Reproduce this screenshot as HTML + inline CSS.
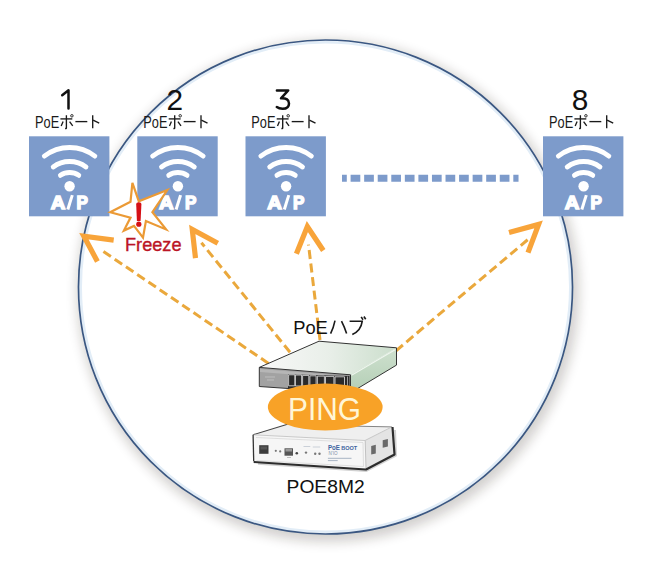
<!DOCTYPE html>
<html><head><meta charset="utf-8">
<style>
html,body{margin:0;padding:0;background:#fff;width:650px;height:571px;overflow:hidden}
svg{display:block;position:absolute;left:0;top:0}
.lbl{font-family:"Liberation Sans",sans-serif;fill:#111}
</style></head>
<body>
<svg width="650" height="571" viewBox="0 0 650 571">
<defs>
  <filter id="sh" x="-20%" y="-20%" width="140%" height="140%">
    <feGaussianBlur stdDeviation="6"/>
  </filter>
  <linearGradient id="hubTop" x1="0" y1="0" x2="1" y2="0">
    <stop offset="0" stop-color="#f8f8f8"/>
    <stop offset="0.5" stop-color="#e9efe9"/>
    <stop offset="1" stop-color="#cbdecc"/>
  </linearGradient>
  <linearGradient id="hubSide" x1="0" y1="0" x2="0" y2="1">
    <stop offset="0" stop-color="#cfe1cf"/>
    <stop offset="1" stop-color="#b3ceb5"/>
  </linearGradient>
  
  
</defs>

<!-- big circle with shadow -->
<circle cx="328" cy="291" r="251" fill="#201810" opacity="0.2" filter="url(#sh)"/>
<circle cx="325.5" cy="287" r="247" fill="#fff"/>
<circle cx="325.5" cy="287" r="244.8" fill="none" stroke="#e2edf7" stroke-width="2.6"/>
<circle cx="325.5" cy="287" r="247" fill="none" stroke="#3a5782" stroke-width="1.7"/>

<!-- AP boxes -->
<g transform="translate(29 136.3)">
    <rect x="0" y="0" width="80.4" height="80" fill="#7d9bcb"/>
    <g fill="none" stroke="#fff" stroke-width="4.8" stroke-linecap="round">
      <path d="M15.3 19.85 A41.3 41.3 0 0 1 65.9 19.85"/>
      <path d="M24.2 30.67 A27.3 27.3 0 0 1 57 30.67"/>
      <path d="M31.4 39.05 A16.3 16.3 0 0 1 49.8 39.05"/>
    </g>
    <circle cx="40.6" cy="49.9" r="5.2" fill="#fff"/>
    <g font-family="Liberation Sans" font-weight="bold" font-size="17.5" fill="#fff" stroke="#fff" stroke-width="1.4">
      <text x="21.7" y="72.6" textLength="14.6" lengthAdjust="spacingAndGlyphs">A</text>
      <path d="M38.8 73.2 L43.3 58.8" stroke="#fff" stroke-width="3" fill="none"/>
      <text x="47.6" y="72.6" textLength="11.4" lengthAdjust="spacingAndGlyphs">P</text>
    </g>
  </g>
<g transform="translate(137.3 136.3)">
    <rect x="0" y="0" width="80.4" height="80" fill="#7d9bcb"/>
    <g fill="none" stroke="#fff" stroke-width="4.8" stroke-linecap="round">
      <path d="M15.3 19.85 A41.3 41.3 0 0 1 65.9 19.85"/>
      <path d="M24.2 30.67 A27.3 27.3 0 0 1 57 30.67"/>
      <path d="M31.4 39.05 A16.3 16.3 0 0 1 49.8 39.05"/>
    </g>
    <circle cx="40.6" cy="49.9" r="5.2" fill="#fff"/>
    <g font-family="Liberation Sans" font-weight="bold" font-size="17.5" fill="#fff" stroke="#fff" stroke-width="1.4">
      <text x="21.7" y="72.6" textLength="14.6" lengthAdjust="spacingAndGlyphs">A</text>
      <path d="M38.8 73.2 L43.3 58.8" stroke="#fff" stroke-width="3" fill="none"/>
      <text x="47.6" y="72.6" textLength="11.4" lengthAdjust="spacingAndGlyphs">P</text>
    </g>
  </g>
<g transform="translate(245.5 136.3)">
    <rect x="0" y="0" width="80.4" height="80" fill="#7d9bcb"/>
    <g fill="none" stroke="#fff" stroke-width="4.8" stroke-linecap="round">
      <path d="M15.3 19.85 A41.3 41.3 0 0 1 65.9 19.85"/>
      <path d="M24.2 30.67 A27.3 27.3 0 0 1 57 30.67"/>
      <path d="M31.4 39.05 A16.3 16.3 0 0 1 49.8 39.05"/>
    </g>
    <circle cx="40.6" cy="49.9" r="5.2" fill="#fff"/>
    <g font-family="Liberation Sans" font-weight="bold" font-size="17.5" fill="#fff" stroke="#fff" stroke-width="1.4">
      <text x="21.7" y="72.6" textLength="14.6" lengthAdjust="spacingAndGlyphs">A</text>
      <path d="M38.8 73.2 L43.3 58.8" stroke="#fff" stroke-width="3" fill="none"/>
      <text x="47.6" y="72.6" textLength="11.4" lengthAdjust="spacingAndGlyphs">P</text>
    </g>
  </g>
<g transform="translate(543 136.3)">
    <rect x="0" y="0" width="80.4" height="80" fill="#7d9bcb"/>
    <g fill="none" stroke="#fff" stroke-width="4.8" stroke-linecap="round">
      <path d="M15.3 19.85 A41.3 41.3 0 0 1 65.9 19.85"/>
      <path d="M24.2 30.67 A27.3 27.3 0 0 1 57 30.67"/>
      <path d="M31.4 39.05 A16.3 16.3 0 0 1 49.8 39.05"/>
    </g>
    <circle cx="40.6" cy="49.9" r="5.2" fill="#fff"/>
    <g font-family="Liberation Sans" font-weight="bold" font-size="17.5" fill="#fff" stroke="#fff" stroke-width="1.4">
      <text x="21.7" y="72.6" textLength="14.6" lengthAdjust="spacingAndGlyphs">A</text>
      <path d="M38.8 73.2 L43.3 58.8" stroke="#fff" stroke-width="3" fill="none"/>
      <text x="47.6" y="72.6" textLength="11.4" lengthAdjust="spacingAndGlyphs">P</text>
    </g>
  </g>

<!-- numbers -->
<g fill="none" stroke="#111" stroke-width="2.5" stroke-linecap="round" stroke-linejoin="round">
  <path d="M62.2 95.2 L68.5 90.2 V108.6"/>
  <path d="M276.9 90.4 H288.2 L281 98.3 Q289 98 289 103.4 Q289 108.7 282.6 108.7 Q279 108.7 276.8 107"/>
</g>
<g class="lbl" font-size="29.8" text-anchor="middle">
  <text x="174.8" y="109.8">2</text>
  <text x="580" y="109.8">8</text>
</g>
<!-- PoEポート labels -->
<g transform="translate(35 127.6)">
    <text x="0" y="0" font-family="Liberation Sans" font-size="16.3" fill="#1a1a1a" textLength="24.2" lengthAdjust="spacingAndGlyphs">PoE</text>
    <g fill="none" stroke="#1a1a1a" stroke-width="1.35" stroke-linecap="butt">
      <path d="M25.4 -8.7 H37.3"/>
      <path d="M31.4 -12.3 V0.6 Q31.4 1 30.1 0.9"/>
      <path d="M28.1 -6 L26.2 -1.7"/>
      <path d="M34.6 -6 L37.7 -1.7"/>
      <circle cx="36.9" cy="-11.8" r="1.25" stroke-width="0.9"/>
      <path d="M40.4 -6 H52.3"/>
      <path d="M57.7 -12.3 V0.6"/>
      <path d="M58.1 -7.5 L64.2 -4.4"/>
    </g>
  </g>
<g transform="translate(143.3 127.6)">
    <text x="0" y="0" font-family="Liberation Sans" font-size="16.3" fill="#1a1a1a" textLength="24.2" lengthAdjust="spacingAndGlyphs">PoE</text>
    <g fill="none" stroke="#1a1a1a" stroke-width="1.35" stroke-linecap="butt">
      <path d="M25.4 -8.7 H37.3"/>
      <path d="M31.4 -12.3 V0.6 Q31.4 1 30.1 0.9"/>
      <path d="M28.1 -6 L26.2 -1.7"/>
      <path d="M34.6 -6 L37.7 -1.7"/>
      <circle cx="36.9" cy="-11.8" r="1.25" stroke-width="0.9"/>
      <path d="M40.4 -6 H52.3"/>
      <path d="M57.7 -12.3 V0.6"/>
      <path d="M58.1 -7.5 L64.2 -4.4"/>
    </g>
  </g>
<g transform="translate(251.3 127.6)">
    <text x="0" y="0" font-family="Liberation Sans" font-size="16.3" fill="#1a1a1a" textLength="24.2" lengthAdjust="spacingAndGlyphs">PoE</text>
    <g fill="none" stroke="#1a1a1a" stroke-width="1.35" stroke-linecap="butt">
      <path d="M25.4 -8.7 H37.3"/>
      <path d="M31.4 -12.3 V0.6 Q31.4 1 30.1 0.9"/>
      <path d="M28.1 -6 L26.2 -1.7"/>
      <path d="M34.6 -6 L37.7 -1.7"/>
      <circle cx="36.9" cy="-11.8" r="1.25" stroke-width="0.9"/>
      <path d="M40.4 -6 H52.3"/>
      <path d="M57.7 -12.3 V0.6"/>
      <path d="M58.1 -7.5 L64.2 -4.4"/>
    </g>
  </g>
<g transform="translate(549 127.6)">
    <text x="0" y="0" font-family="Liberation Sans" font-size="16.3" fill="#1a1a1a" textLength="24.2" lengthAdjust="spacingAndGlyphs">PoE</text>
    <g fill="none" stroke="#1a1a1a" stroke-width="1.35" stroke-linecap="butt">
      <path d="M25.4 -8.7 H37.3"/>
      <path d="M31.4 -12.3 V0.6 Q31.4 1 30.1 0.9"/>
      <path d="M28.1 -6 L26.2 -1.7"/>
      <path d="M34.6 -6 L37.7 -1.7"/>
      <circle cx="36.9" cy="-11.8" r="1.25" stroke-width="0.9"/>
      <path d="M40.4 -6 H52.3"/>
      <path d="M57.7 -12.3 V0.6"/>
      <path d="M58.1 -7.5 L64.2 -4.4"/>
    </g>
  </g>

<!-- dotted line -->
<path d="M342 178.2 H518.6" stroke="#7d9bcb" stroke-width="7" stroke-dasharray="4.8 3.8 9.7 3.86 9.7 3.86 9.7 3.86 9.7 3.86 9.7 3.86 9.7 3.86 9.7 3.86 9.7 3.86 9.7 3.86 9.7 3.86 9.7 3.86 9.7 3.86 5.2 100"/>

<!-- dashed arrows -->
<g stroke="#eaa83c" stroke-width="3" fill="none" stroke-dasharray="9 4.6">
  <path d="M268.5 363.4 L99.7 249"/>
  <path d="M290 352.3 L201.4 242.7"/>
  <path d="M320 340 L308.5 244.6"/>
  <path d="M396 350.8 L529 238.6"/>
</g>
<g stroke="#f8a43a" stroke-width="5.2" fill="none" stroke-linejoin="miter" stroke-miterlimit="10">
  <path d="M113.7 240.2 L83.9 236.15 L97.4 261.5"/>
  <path d="M217.8 243.2 L192.25 229.45 L195.5 258.1"/>
  <path d="M296.4 253.8 L307.35 226.5 L323.3 250.5"/>
  <path d="M509 232.6 L538.6 224.4 L528 252.6"/>
</g>

<!-- starburst -->
<path d="M132.4 182.8 L138.8 201.2 L167.3 190.0 L152.4 212.2 L166.1 229.4 L145.9 221.1 L143.0 237.7 L134.0 225.9 L123.9 230.6 L130.5 217.6 L110.2 212.2 L130.5 201.8 Z" fill="#fff" stroke="#eb9a35" stroke-width="2.2" stroke-linejoin="miter"/>
<path d="M136.2 204.5 Q136.2 202.2 138.8 202.2 Q141.4 202.2 141.4 204.5 L140.6 221 L136.9 221 Z" fill="#d51016"/>
<circle cx="138.8" cy="224.2" r="2.6" fill="#d51016"/>
<text x="125" y="250.5" font-family="Liberation Sans" font-size="18.2" fill="#bb1525" stroke="#bb1525" stroke-width="0.35" textLength="56.5" lengthAdjust="spacingAndGlyphs">Freeze</text>

<!-- PoEハブ label -->
<text x="293.2" y="333.8" class="lbl" font-size="18.5" textLength="34.6" lengthAdjust="spacingAndGlyphs">PoE</text>
<g fill="none" stroke="#1a1a1a" stroke-width="1.6" stroke-linecap="butt">
  <path d="M335 320.7 Q333.5 328 330.6 333.6"/>
  <path d="M341.5 321.1 Q344.5 327 346.6 333.4"/>
  <path d="M349.6 321.3 H362.2 Q361 330.5 352.3 334.5"/>
  <path d="M361.2 316.9 L363 319.7"/>
  <path d="M363.9 316.5 L365.7 319.3"/>
</g>

<!-- PoE hub -->
<g stroke-linejoin="round">
  <polygon points="259.3,367.4 319,341.2 396.5,347.8 350.5,374.8" fill="url(#hubTop)"/>
  <polygon points="350.5,374.8 396.5,347.8 396.5,365.1 350.5,392.8" fill="url(#hubSide)"/>
  <path d="M351.5 375.2 L395.5 349.5" stroke="#eef5ee" stroke-width="1.3" fill="none"/>
  <polygon points="259.3,367.4 350.5,374.8 350.5,392.8 259.6,386.5" fill="#a2a2a2"/>
  <polygon points="260,369 349.5,376.3 349.5,379 260,372" fill="#b6b6b6"/>
  <path d="M265 377 H275 M267 380 H274" stroke="#c4c4c4" stroke-width="0.8"/>
  <path d="M259.3 367.4 L319 341.2 L396.5 347.8 V365.1 L350.5 392.8 M259.3 367.4 V386.5 L350.5 392.8 M259.3 367.4 L350.5 374.8 V392.8" fill="none" stroke="#333" stroke-width="1"/>
  <polygon points="288,374.2 349.5,376 349.5,388 288,388" fill="#2a2a2a"/>
  <g fill="none" stroke="#e6e6e6" stroke-width="0.8">
    <rect x="288.6" y="374.8" width="6.2" height="11"/>
    <rect x="295.4" y="375" width="6.2" height="11"/>
    <rect x="302.6" y="375.4" width="6.2" height="11"/>
    <rect x="309.9" y="375.8" width="6.2" height="11"/>
    <rect x="317.4" y="376.1" width="7" height="11"/>
    <rect x="325.5" y="376.4" width="8.4" height="11"/>
    <rect x="335" y="376.8" width="9.5" height="11"/>
  </g>
  <path d="M347.5 376.5 V388" stroke="#bbb" stroke-width="0.8"/>
</g>

<!-- POE8M2 device -->
<g stroke-linejoin="round">
  <polygon points="253.1,434.8 287.5,424.3 363,426.3 391.9,426.9 365,440.5" fill="#efefef"/>
  <polygon points="365,440.5 391.9,426.9 394.2,453.5 366,468.5" fill="#e4e4e4"/>
  <polygon points="253.1,434.8 365,440.5 366,468.5 253.7,461.2" fill="#f6f6f6"/>
  <path d="M253.1 434.8 L287.5 424.3" stroke="#444" stroke-width="1.1" fill="none"/>
  <path d="M287.5 424.3 L363 426.3 L391.9 426.9" stroke="#777" stroke-width="0.9" fill="none"/>
  <path d="M253.1 434.8 L365 440.5 L391.9 426.9" stroke="#bdbdbd" stroke-width="0.8" fill="none"/>
  <path d="M365.2 440.8 L366 468.5" stroke="#b5b5b5" stroke-width="0.8" fill="none"/>
  <path d="M256 437.5 L363 442.5 L363.5 466.5 L256.5 460.5" stroke="#d4d4d4" stroke-width="0.7" fill="none"/>
  <path d="M253.1 434.8 L253.7 461.2" stroke="#333" stroke-width="1.3" fill="none"/>
  <path d="M253.7 462 L366 469.5 L394.5 454.5 L392.5 427" stroke="#2e2e2e" stroke-width="2.2" fill="none"/>
  <path d="M258 463.8 L366 471 L396 455.5 L395 430" stroke="#000" stroke-opacity="0.18" stroke-width="2" fill="none"/>
  <rect x="259.2" y="445.2" width="9.3" height="8.6" fill="#3c3c3c"/>
  <rect x="260.5" y="446.5" width="6.5" height="3" fill="#555"/>
  <circle cx="275.8" cy="450.8" r="1.1" fill="#777"/>
  <circle cx="280.2" cy="451.4" r="1.1" fill="#777"/>
  <rect x="284.5" y="448.3" width="8.5" height="7.4" fill="#555"/>
  <rect x="285.5" y="449" width="6.5" height="2.5" fill="#999"/>
  <path d="M287 457.5 H291" stroke="#999" stroke-width="0.6"/>
  <circle cx="296.8" cy="453.2" r="1.3" fill="#444"/>
  <path d="M303.5 446.5 H310.3 M312.8 447 H320.2" stroke="#b8c0cc" stroke-width="0.7"/>
  <circle cx="306" cy="452.6" r="1.2" fill="#777"/>
  <circle cx="315.2" cy="453.8" r="1.2" fill="#777"/>
  <circle cx="319.5" cy="453.8" r="1.2" fill="#777"/>
  <text x="327.9" y="450.2" font-family="Liberation Sans" font-size="7.8" font-weight="bold" fill="#3f64a0" textLength="12" lengthAdjust="spacingAndGlyphs">PoE</text>
  <text x="341.2" y="450.2" font-family="Liberation Sans" font-size="5.5" font-weight="bold" fill="#3f64a0" textLength="16" lengthAdjust="spacingAndGlyphs">BOOT</text>
  <text x="328.5" y="454.6" font-family="Liberation Sans" font-size="4.5" fill="#8090a8" textLength="9" lengthAdjust="spacingAndGlyphs">N'IO</text>
  <path d="M327.9 458.3 H351.5 M327.9 460.6 H337.7" stroke="#a8b4c4" stroke-width="1"/>
  <polygon points="371.2,446 375.8,444.8 375.8,453.4 371.2,454.6" fill="#6a6a6a"/>
  <polygon points="382.7,440.3 387.9,439 387.9,446.4 382.7,447.7" fill="#6a6a6a"/>
</g>

<!-- PING ellipse -->
<ellipse cx="325.25" cy="407" rx="57.4" ry="23.6" fill="#f8a227"/>
<text x="288" y="420.3" font-family="Liberation Sans" font-size="31" fill="#fff6d6" textLength="73" lengthAdjust="spacingAndGlyphs">PING</text>

<!-- POE8M2 label -->
<text x="286.6" y="493" class="lbl" font-size="18.3" textLength="78" lengthAdjust="spacingAndGlyphs">POE8M2</text>
</svg>
</body></html>
